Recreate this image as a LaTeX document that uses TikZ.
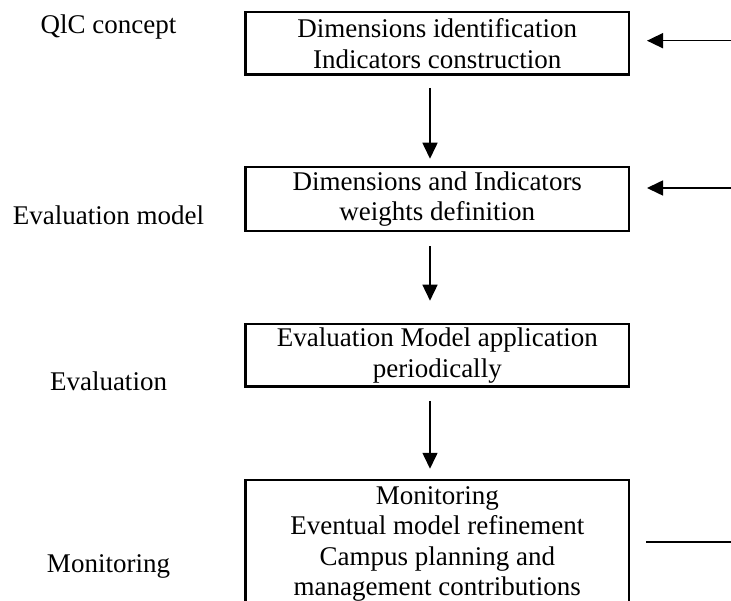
\documentclass[tikz,border=0pt]{standalone}
\usepackage{fontspec}
\setmainfont{Liberation Serif}
\usetikzlibrary{arrows.meta}
\begin{document}
\begin{tikzpicture}[x=1pt,y=-1pt,
  every node/.style={font=\fontsize{27}{30.5}\selectfont},
  boxnode/.style={draw,line width=2.5pt,minimum width=383.5pt,inner sep=0pt,align=center},
  lbl/.style={inner sep=0pt},
  arr/.style={line width=1.6pt,-{Triangle[length=16pt,width=15pt]}},
  plainline/.style={line width=1.6pt}]
\useasboundingbox (0,0) rectangle (731,601);
\clip (0,0) rectangle (731,601);
\fill[white] (0,0) rectangle (731,601);
\node[boxnode,minimum height=62.7pt] (b1) at (437.25,43.4) {Dimensions identification\\Indicators construction};
\node[boxnode,minimum height=64pt] (b2) at (437.25,199) {Dimensions and Indicators\\weights definition};
\node[boxnode,minimum height=62.7pt] (b3) at (437.25,355.3) {Evaluation Model application\\periodically};
\node[boxnode,minimum height=128pt] (b4) at (437.25,544) {Monitoring\\Eventual model refinement\\Campus planning and\\management contributions};
\node[lbl] (l1) at (108.5,27) {QlC concept};
\node[lbl] (l2) at (108.5,215) {Evaluation model};
\node[lbl] (l3) at (108.5,381) {Evaluation};
\node[lbl] (l4) at (108.5,566) {Monitoring};
\draw[arr] ([xshift=-7.25pt,yshift=-12pt]b1.south) -- ([xshift=-7.25pt,yshift=7pt]b2.north);
\draw[arr] ([xshift=-7.25pt,yshift=-14pt]b2.south) -- ([xshift=-7.25pt,yshift=22pt]b3.north);
\draw[arr] ([xshift=-7.25pt,yshift=-13pt]b3.south) -- ([xshift=-7.25pt,yshift=10pt]b4.north);
\coordinate (r1) at (731,40.7);
\coordinate (t1) at (647,40.7);
\coordinate (r2) at (731,188);
\coordinate (t2) at (647,188);
\coordinate (r3) at (731,542);
\coordinate (t3) at (646,542);
\draw[arr] (r1) -- (t1);
\draw[arr] (r2) -- (t2);
\draw[plainline] (r3) -- (t3);
\end{tikzpicture}
\end{document}
